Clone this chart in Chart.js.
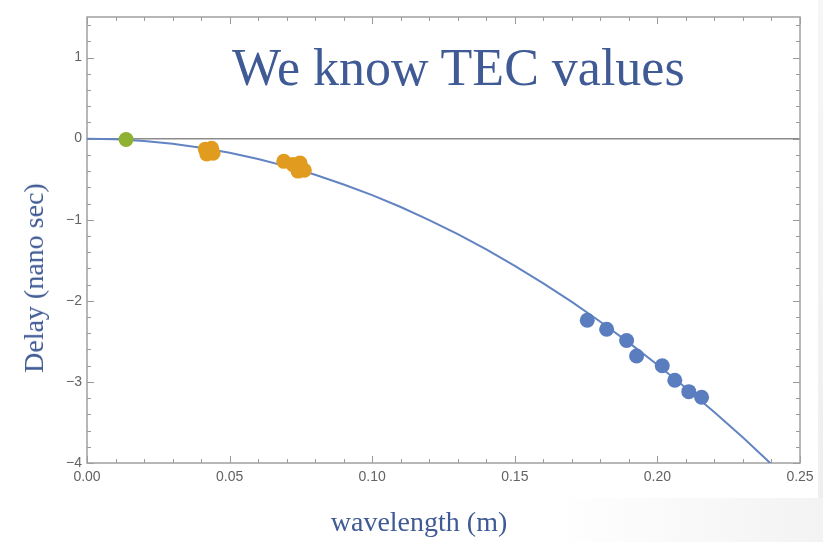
<!DOCTYPE html>
<html>
<head>
<meta charset="utf-8">
<script src="https://cdn.jsdelivr.net/npm/chart.js@4"></script>
<style>
  html, body { margin: 0; padding: 0; background: #fff; }
  #wrap { position: relative; width: 823px; height: 542px; overflow: hidden; background: #fff; }
  #wrap canvas { position: absolute; left: 0; top: 0; }
  .edge { position: absolute; right: 0; top: 0; width: 5px; height: 542px; background: linear-gradient(#f6f6f6, #eeeeee); }
  .corner { position: absolute; left: 553px; top: 498px; width: 270px; height: 44px;
            background: linear-gradient(90deg, #ffffff, #f3f3f3); }
  .txt { position: absolute; color: #3f5a94; font-family: "Liberation Serif", "DejaVu Serif", serif; white-space: nowrap; }
  #note { left: 232px; top: 38px; font-size: 52px; line-height: 60px; }
  #xtitle { left: 419px; top: 505px; font-size: 28px; line-height: 34px; transform: translateX(-50%); }
  #ytitle { left: 34px; top: 278px; font-size: 28px; line-height: 34px; transform: translate(-50%, -50%) rotate(-90deg); }
</style>
</head>
<body>
<div id="wrap">
  <div class="edge"></div>
  <div class="corner"></div>
  <canvas id="tecChart" width="823" height="542"></canvas>
  <div class="txt" id="note">We know TEC values</div>
  <div class="txt" id="xtitle">wavelength (m)</div>
  <div class="txt" id="ytitle">Delay (nano sec)</div>
</div>
<script>
// tick labels
const xTicks = [0, 0.05, 0.10, 0.15, 0.20, 0.25];
const yTicks = [-4, -3, -2, -1, 0, 1];

// fitted curve
const curveX = [0, 0.01, 0.02, 0.03, 0.04, 0.05, 0.06, 0.07, 0.08, 0.09, 0.10, 0.11, 0.12,
                0.13, 0.14, 0.15, 0.16, 0.17, 0.18, 0.19, 0.20, 0.21, 0.22, 0.23, 0.24];
const curveY = [0, -0.007, -0.028, -0.063, -0.112, -0.174, -0.251, -0.342, -0.446, -0.565, -0.697, -0.843, -1.004,
                -1.178, -1.366, -1.568, -1.784, -2.014, -2.258, -2.516, -2.788, -3.074, -3.373, -3.687, -4.015];

// green point
const greenX = [0.0137];
const greenY = [-0.01];

// orange clusters
const orangeX = [0.0415, 0.0437, 0.0420, 0.0442, 0.0690, 0.0722, 0.0747, 0.0740, 0.0762];
const orangeY = [-0.13, -0.12, -0.19, -0.18, -0.28, -0.32, -0.30, -0.40, -0.39];

// blue points
const blueX = [0.1754, 0.1822, 0.1892, 0.1927, 0.2017, 0.2061, 0.2110, 0.2155];
const blueY = [-2.24, -2.35, -2.49, -2.68, -2.80, -2.98, -3.12, -3.19];

const pts = (xs, ys) => xs.map((x, i) => ({ x: x, y: ys[i] }));

// frame, inward ticks and the zero line, Mathematica style
const framePlugin = {
    id: 'frame',
    beforeDatasetsDraw(chart) {
        const { ctx, chartArea: a, scales } = chart;
        const xs = scales.x, ys = scales.y;
        ctx.save();
        ctx.strokeStyle = '#9a9a9a';
        ctx.lineWidth = 1;
        ctx.beginPath();
        for (let i = 0; i <= 25; i++) {
            const px = Math.round(xs.getPixelForValue(i / 100)) + 0.5;
            const len = i % 5 === 0 ? 7 : 4;
            ctx.moveTo(px, a.bottom); ctx.lineTo(px, a.bottom - len);
            ctx.moveTo(px, a.top); ctx.lineTo(px, a.top + len);
        }
        for (let i = -20; i <= 7; i++) {
            const py = Math.round(ys.getPixelForValue(i / 5)) + 0.5;
            const len = i % 5 === 0 ? 7 : 4;
            ctx.moveTo(a.left, py); ctx.lineTo(a.left + len, py);
            ctx.moveTo(a.right, py); ctx.lineTo(a.right - len, py);
        }
        ctx.stroke();
        // zero line
        ctx.strokeStyle = '#8c8c8c';
        ctx.lineWidth = 1.5;
        const y0 = ys.getPixelForValue(0);
        ctx.beginPath();
        ctx.moveTo(a.left, y0); ctx.lineTo(a.right, y0);
        ctx.stroke();
        // frame
        ctx.strokeStyle = '#a0a0a0';
        ctx.lineWidth = 1.5;
        ctx.strokeRect(a.left, a.top, a.right - a.left, a.bottom - a.top);
        ctx.restore();
    }
};

const ctx = document.getElementById('tecChart').getContext('2d');
new Chart(ctx, {
    type: 'scatter',
    data: {
        datasets: [{
            type: 'line',
            label: 'fit',
            data: pts(curveX, curveY),
            borderColor: '#6384c2',
            borderWidth: 2,
            pointRadius: 0,
            cubicInterpolation: 'monotone',
            fill: false,
            order: 3
        }, {
            label: 'green',
            data: pts(greenX, greenY),
            backgroundColor: '#8fb131',
            borderWidth: 0,
            pointRadius: 7.5,
            order: 1
        }, {
            label: 'orange',
            data: pts(orangeX, orangeY),
            backgroundColor: '#e19c20',
            borderWidth: 0,
            pointRadius: 7.5,
            order: 2
        }, {
            label: 'blue',
            data: pts(blueX, blueY),
            backgroundColor: '#5a7dbf',
            borderWidth: 0,
            pointRadius: 7.5,
            order: 1
        }]
    },
    options: {
        responsive: false,
        animation: false,
        layout: { padding: { top: 17, right: 23, left: 0, bottom: 0 } },
        plugins: {
            legend: { display: false },
            tooltip: { enabled: false }
        },
        scales: {
            x: {
                type: 'linear',
                min: 0,
                max: 0.25,
                grid: { display: false, drawTicks: false },
                border: { display: false },
                afterBuildTicks: s => { s.ticks = xTicks.map(v => ({ value: v })); },
                afterFit: s => { s.height = 79; },
                ticks: {
                    color: '#636363',
                    padding: 6,
                    font: { family: 'Liberation Sans', size: 14 },
                    callback: v => v.toFixed(2)
                }
            },
            y: {
                type: 'linear',
                min: -4,
                max: 1.5,
                grid: { display: false, drawTicks: false },
                border: { display: false },
                afterBuildTicks: s => { s.ticks = yTicks.map(v => ({ value: v })); },
                afterFit: s => { s.width = 87; },
                ticks: {
                    color: '#636363',
                    padding: 5,
                    font: { family: 'Liberation Sans', size: 14 },
                    callback: v => String(v).replace('-', '\u2212')
                }
            }
        }
    },
    plugins: [framePlugin]
});
</script>
</body>
</html>
